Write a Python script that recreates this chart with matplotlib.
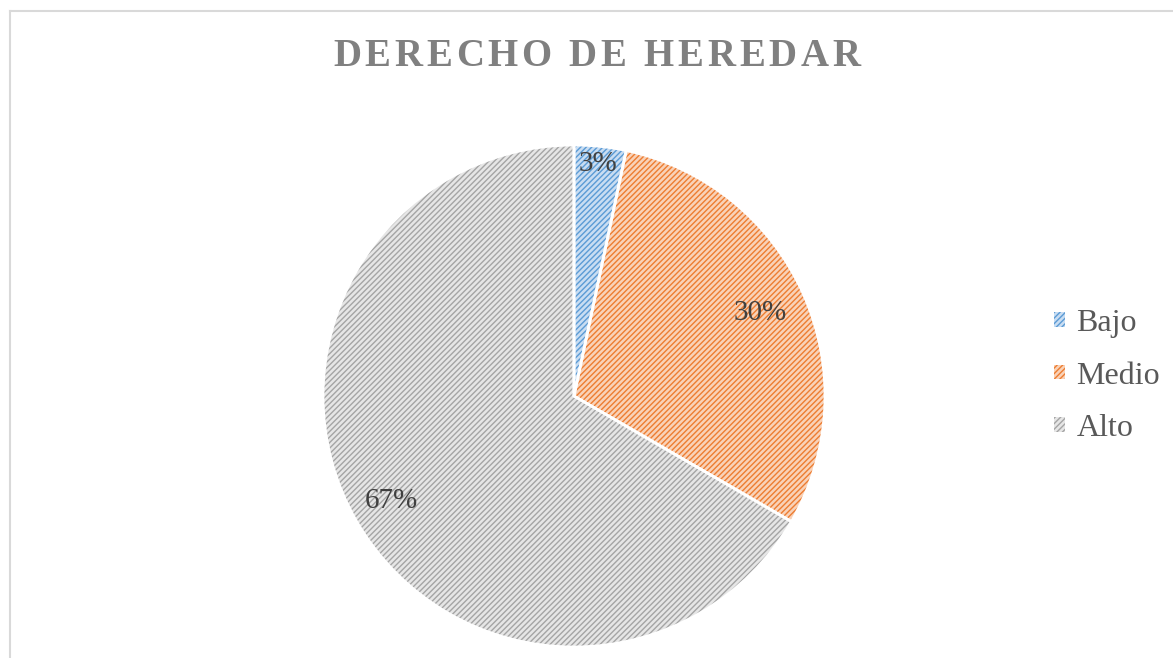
import matplotlib
matplotlib.use("Agg")
import matplotlib.pyplot as plt
from matplotlib.patches import Wedge, Patch
from matplotlib.lines import Line2D
import numpy as np

categories = ["Bajo", "Medio", "Alto"]
values = [1, 9, 20]
pct_labels = ["3%", "30%", "67%"]
title = "DERECHO DE HEREDAR"

face_colors = ["#C9DDF2", "#F9D2B8", "#E6E6E6"]
hatch_colors = ["#5B9BD5", "#ED7D31", "#A5A5A5"]
label_dist = [0.93, 0.81, 0.84]

plt.rcParams["font.family"] = ["Liberation Serif", "DejaVu Serif"]
plt.rcParams["hatch.linewidth"] = 1.0

W, H = 1173, 658
fig = plt.figure(figsize=(W / 100, H / 100), dpi=100)
fig.set_facecolor("white")

# frame lines (top / left)
fig.add_artist(Line2D([10 / W, 1], [1 - 11 / H, 1 - 11 / H], color="#D9D9D9", lw=1.5))
fig.add_artist(Line2D([10 / W, 10 / W], [0, 1 - 11 / H], color="#D9D9D9", lw=1.5))

cx, cy, r = 574, 396, 251
ax = fig.add_axes([(cx - r) / W, (H - cy - r) / H, 2 * r / W, 2 * r / H])

wedges, _ = ax.pie(values, colors=face_colors, startangle=90, counterclock=False,
                   radius=1, wedgeprops=dict(edgecolor="none", linewidth=0))
for w, hc in zip(wedges, hatch_colors):
    ax.add_patch(Wedge(w.center, w.r, w.theta1, w.theta2, facecolor="none",
                       edgecolor=hc, hatch="//////", linewidth=0))
for w in wedges:
    ax.add_patch(Wedge(w.center, w.r, w.theta1, w.theta2, facecolor="none",
                       edgecolor="white", linewidth=2))
ax.set_xlim(-1, 1)
ax.set_ylim(-1, 1)
ax.set_aspect("equal")
ax.axis("off")

for w, lab, d in zip(wedges, pct_labels, label_dist):
    ang = np.deg2rad((w.theta1 + w.theta2) / 2)
    ax.text(d * np.cos(ang), d * np.sin(ang), lab, ha="center", va="center",
            fontsize=21, color="#404040")

# title with letter spacing
renderer = fig.canvas.get_renderer()
x_left, x_right, ty = 333, 860, 56
chars = list(title)
widths = []
for ch in chars:
    t = fig.text(0, 0, ch if ch != " " else "n", fontsize=28, fontweight="bold")
    bb = t.get_window_extent(renderer)
    widths.append(bb.width * (0.45 if ch == " " else 1.0))
    t.remove()
gap = (x_right - x_left - sum(widths)) / (len(chars) - 1)
x = x_left
for ch, wd in zip(chars, widths):
    if ch != " ":
        fig.text(x / W, 1 - ty / H, ch, fontsize=28, fontweight="bold",
                 color="#808080", ha="left", va="center")
    x += wd + gap

handles = [Patch(facecolor=fc, edgecolor=hc, hatch="//////", linewidth=0)
           for fc, hc in zip(face_colors, hatch_colors)]
fig.legend(handles, categories, loc="center left",
           bbox_to_anchor=(1054 / W, 1 - 376 / H), frameon=False,
           fontsize=23, labelcolor="#595959", handlelength=0.34,
           handleheight=0.34, handletextpad=0.36, labelspacing=0.73,
           borderpad=0, borderaxespad=0)

fig.savefig("out.png", dpi=100, facecolor="white")
